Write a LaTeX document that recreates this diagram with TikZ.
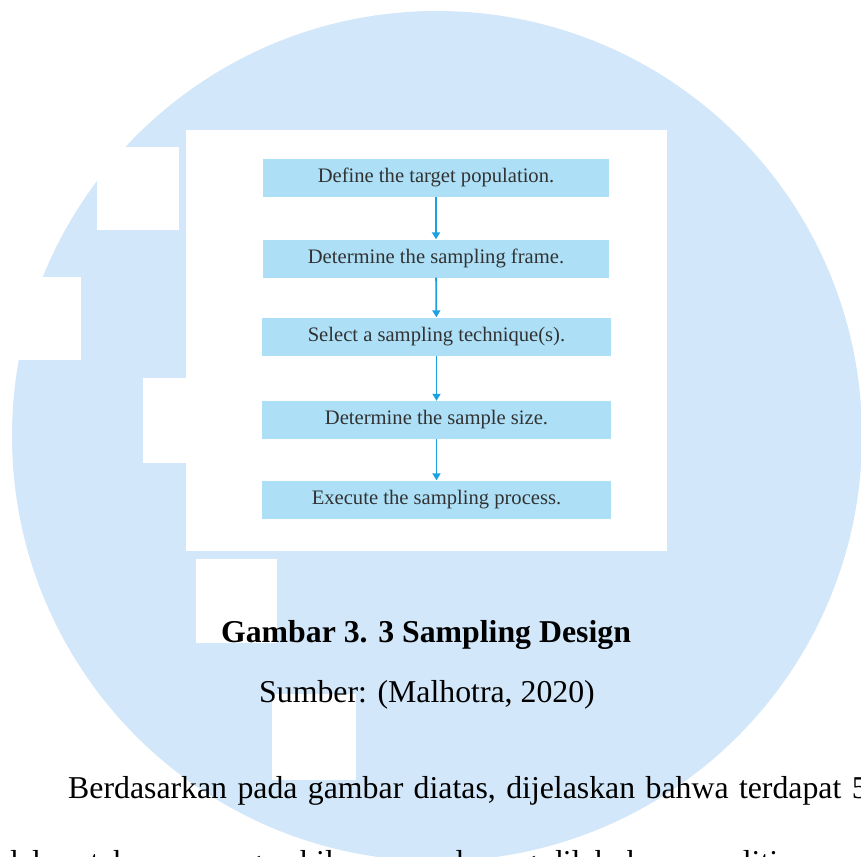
\documentclass[tikz,border=0pt]{standalone}
\usepackage{fontspec}
\setmainfont{Liberation Serif}
\usetikzlibrary{arrows.meta}
\definecolor{wm}{RGB}{210,231,249}
\definecolor{boxfill}{RGB}{173,224,247}
\definecolor{arrowblue}{RGB}{27,161,226}
\definecolor{boxtext}{RGB}{50,50,50}
\begin{document}
\begin{tikzpicture}[x=1pt,y=-1pt,
  stepbox/.style={fill=boxfill, draw=none, minimum height=38pt, inner sep=0pt,
    font=\fontsize{20.6}{24}\selectfont, text=boxtext},
  flow/.style={draw=arrowblue, line width=1.8pt, -{Triangle[width=8pt,length=7pt]}},
  body/.style={font=\fontsize{31.8}{38}\selectfont, inner sep=0pt, text=black},
  patch/.style={fill=white}]
\useasboundingbox (0,0) rectangle (861,856);
\clip (0,0) rectangle (861,856);
% watermark disc
\fill[wm] (437,436) circle[radius=425];
% white patches
\fill[patch] (186,130) rectangle (667,551);
\fill[patch] (97,147) rectangle (179,230);
\fill[patch] (0,277) rectangle (81,360);
\fill[patch] (143,378) rectangle (186,463);
\fill[patch] (196,559) rectangle (277,643);
\fill[patch] (272,694) rectangle (356,780);
% flowchart
\node[stepbox, minimum width=346pt] (s1) at (436,177.5) {Define the target population.};
\node[stepbox, minimum width=346pt] (s2) at (436,258.5) {Determine the sampling frame.};
\node[stepbox, minimum width=349pt] (s3) at (436.5,336.5) {Select a sampling technique(s).};
\node[stepbox, minimum width=349pt] (s4) at (436.5,420) {Determine the sample size.};
\node[stepbox, minimum width=349pt] (s5) at (436.5,499.5) {Execute the sampling process.};
\draw[flow] (s1) -- (s2);
\draw[flow] (s2) -- (s3);
\draw[flow] (s3) -- (s4);
\draw[flow] (s4) -- (s5);
% texts
\node[body, font=\fontsize{31.8}{38}\selectfont\bfseries, anchor=base] (cap) at (426,642) {Gambar 3. 3 Sampling Design};
\node[body, anchor=base] (src) at (427,702) {Sumber: (Malhotra, 2020)};
\node[body, anchor=base west] (p1) at (68,798) {\spaceskip=10.4pt Berdasarkan pada gambar diatas, dijelaskan bahwa terdapat 5};
\node[body, anchor=base west] (p2) at (2,872) {\spaceskip=10.4pt dalam tahapan pengambilan sampel yang dilakukan peneliti};
\end{tikzpicture}
\end{document}
